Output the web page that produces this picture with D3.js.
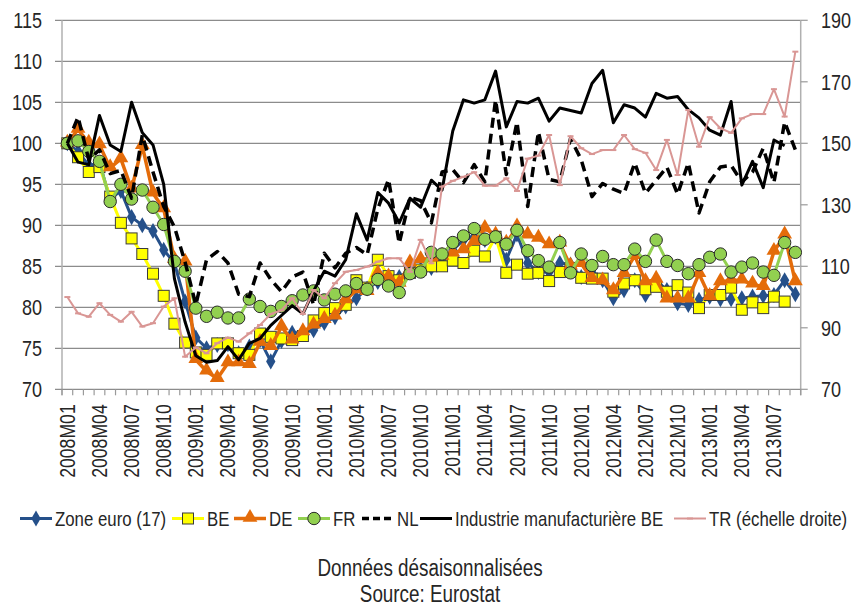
<!DOCTYPE html>
<html>
<head>
<meta charset="utf-8">
<script src="https://cdn.jsdelivr.net/npm/d3@7"></script>
<style>
  body { margin: 0; background: #fff; }
  svg text { font-family: "Liberation Sans", Arial, sans-serif; fill: #262626; }
</style>
</head>
<body>
<svg id="chart" width="855" height="608"></svg>
<script>
// months 2008M01 .. 2013M09
var months = [];
for (var yr = 2008; yr <= 2013; yr++)
  for (var mo = 1; mo <= 12; mo++)
    if (months.length < 69) months.push(yr + "M" + (mo < 10 ? "0" + mo : mo));

var tickLabels = ["2008M01","2008M04","2008M07","2008M10","2009M01","2009M04","2009M07","2009M10",
  "2010M01","2010M04","2010M07","2010M10","2011M01","2011M04","2011M07","2011M10",
  "2012M01","2012M04","2012M07","2012M10","2013M01","2013M04","2013M07"];
var leftTicks = [70, 75, 80, 85, 90, 95, 100, 105, 110, 115];
var rightTicks = [70, 90, 110, 130, 150, 170, 190];

var zoneEuro = [100,99.0,97.3,97.6,93.2,94.2,91.0,90.0,89.3,87.0,85.4,80.7,76.3,75.0,75.4,75.5,74.4,75.2,76.0,73.4,
  75.9,76.9,76.9,77.2,78.1,78.8,80.1,81.1,82.3,83.1,83.7,83.7,84.5,84.6,84.8,85.8,87.0,88.2,88.6,88.2,
  88.6,85.8,88.9,85.4,84.3,84.3,85.4,85.2,83.7,84.2,83.3,81.1,82.1,83.3,81.5,83.3,82.1,80.5,80.3,80.9,
  81.3,81.0,81.0,81.1,81.3,81.4,81.5,83.3,81.6];
var be = [100,98.3,96.5,97.1,93.5,90.3,88.4,86.5,84.1,81.4,78.0,75.7,74.5,74.2,75.6,75.6,74.4,74.2,76.8,76.4,
  76.2,76.0,76.5,78.4,79.3,79.9,80.3,83.3,82.4,85.8,83.8,83.3,84.2,84.6,85.0,85.0,85.7,85.4,86.9,86.2,
  88.6,84.2,85.2,84.1,84.2,83.2,84.3,84.8,83.6,83.5,83.5,81.9,82.9,83.3,82.2,82.5,81.9,82.7,81.8,79.9,
  81.5,81.5,82.4,79.7,80.6,79.9,81.3,80.7,null];
var de = [100,101.7,100.0,99.8,97.0,98.1,94.4,99.7,93.9,92.0,85.8,85.5,73.6,72.2,71.3,73.2,73.2,73.0,75.7,75.2,
  77.6,76.0,77.0,77.8,78.5,78.9,80.9,82.1,81.9,84.1,83.7,82.9,85.4,85.8,86.0,86.2,86.6,87.0,88.0,89.6,
  88.8,87.8,89.8,88.8,88.4,87.6,87.8,85.0,85.3,83.5,83.2,82.0,84.1,86.3,83.1,83.4,81.0,81.0,81.0,84.1,
  81.3,83.1,83.3,83.3,82.8,82.5,86.8,88.8,83.1];
var fr = [100,100.3,99.0,97.8,92.9,95.0,93.2,94.3,92.2,90.1,85.6,84.4,79.9,78.9,79.4,78.7,78.7,81.0,80.1,79.5,
  80.1,80.8,81.5,82.0,80.9,81.6,82.0,82.9,82.2,83.4,82.6,81.8,84.1,84.3,86.7,86.5,87.9,88.7,89.6,88.3,
  88.6,87.7,89.4,86.9,85.7,84.9,87.9,84.2,86.5,85.1,86.2,85.2,85.2,87.1,85.6,88.2,85.6,85.1,84.1,85.2,
  86.1,86.5,84.3,84.9,85.4,84.3,83.9,87.9,86.7];
var nl = [100,103.2,98.0,99.2,96.3,96.7,93.3,101.0,96.5,92.3,89.8,85.5,80.3,85.8,86.8,85.4,81.6,81.3,85.4,83.4,
  81.9,83.7,84.3,80.3,86.6,84.8,86.6,87.3,86.4,92.0,95.6,87.8,93.4,93.0,90.3,96.5,96.8,95.2,97.4,95.3,
  105.3,96.2,102.6,92.3,101.4,95.6,95.3,100.6,98.0,93.5,95.1,94.4,93.9,97.6,93.9,95.5,97.1,93.8,97.6,91.5,
  95.3,97.1,97.3,95.3,96.5,99.4,95.2,102.6,99.2];
var industrie = [100,97.7,97.4,103.4,99.8,99.0,105.0,101.3,99.8,95.0,83.5,78.2,74.1,73.3,73.5,75.2,73.6,75.6,76.2,77.8,
  79.0,80.2,79.2,82.0,84.4,83.8,85.8,91.4,88.2,94.0,92.7,90.3,93.3,92.2,95.5,94.3,101.5,105.3,104.9,105.3,
  108.8,102.0,105.1,104.9,105.5,102.7,104.3,104.0,103.7,107.3,108.9,102.5,104.7,104.3,103.2,106.1,105.5,105.7,104.1,103.1,
  101.6,101.0,105.1,94.9,97.8,94.6,100.4,99.7,null];
var tr = [100.0,94.7,93.6,98.0,94.2,92.0,95.2,90.4,91.5,96.9,99.6,80.6,83.6,81.7,85.0,86.8,85.5,88.2,90.9,94.5,
  95.7,99.6,94.5,102.3,99.6,104.5,108.2,108.8,109.9,111.5,112.6,112.6,108.2,118.6,111.0,135.9,137.8,139.1,140.6,136.2,
  136.2,138.6,134.5,145.0,146.0,152.7,136.4,152.3,148.4,146.5,147.8,147.8,152.7,148.1,146.9,141.3,151.1,139.7,160.8,148.9,
  158.5,154.9,153.4,158.1,159.5,159.5,167.6,158.7,179.8];

var series = [
  { name: "Zone euro (17)", values: zoneEuro, color: "#25508a", width: 3, marker: "diamond" },
  { name: "BE", values: be, color: "#ffff00", width: 3, marker: "square" },
  { name: "DE", values: de, color: "#e46c0a", width: 3.5, marker: "triangle" },
  { name: "FR", values: fr, color: "#92d050", width: 3, marker: "circle" },
  { name: "NL", values: nl, color: "#000000", width: 3.5, dash: "10,6" },
  { name: "Industrie manufacturière BE", values: industrie, color: "#000000", width: 3 },
  { name: "TR (échelle droite)", values: tr, color: "#d99694", width: 2, marker: "dash", right: true }
];

var svg = d3.select("#chart");
var plotLeft = 62, plotRight = 800.7, plotTop = 20.3, plotBottom = 389.3;
var narrow = 0.82; // Arial Narrow look

var x = d3.scaleBand().domain(months).range([plotLeft, plotRight]).padding(0);
var yL = d3.scaleLinear().domain([70, 115]).range([plotBottom, plotTop]);
var yR = d3.scaleLinear().domain([70, 190]).range([plotBottom, plotTop]);
function cx(m) { return x(m) + x.bandwidth() / 2; }

function label(g, tx, ty, txt, size, anchor, rot) {
  return g.append("text")
    .attr("transform", "translate(" + tx + "," + ty + ")" + (rot ? " rotate(" + rot + ")" : "") + " scale(" + narrow + ",1)")
    .attr("dy", "0.35em").attr("text-anchor", anchor).style("font-size", size + "px").text(txt);
}

// grid
svg.append("g").selectAll("line").data(leftTicks.slice(1)).enter().append("line")
  .attr("x1", plotLeft - 7).attr("x2", plotRight)
  .attr("y1", function(d) { return yL(d); }).attr("y2", function(d) { return yL(d); })
  .style("stroke", "#8c8c8c").style("stroke-width", 1.3);

// axis lines
svg.append("line").attr("x1", plotLeft).attr("x2", plotLeft).attr("y1", plotTop).attr("y2", plotBottom + 6)
  .style("stroke", "#b0b0b0").style("stroke-width", 1.5);
svg.append("line").attr("x1", plotRight).attr("x2", plotRight).attr("y1", plotTop).attr("y2", plotBottom + 6)
  .style("stroke", "#b0b0b0").style("stroke-width", 1.5);
svg.append("line").attr("x1", plotLeft - 7).attr("x2", plotRight).attr("y1", plotBottom).attr("y2", plotBottom)
  .style("stroke", "#8c8c8c").style("stroke-width", 1.3);

// category ticks
var bounds = months.map(function(m) { return x(m); }).concat([plotRight]);
svg.append("g").selectAll("line").data(bounds).enter().append("line")
  .attr("x1", function(d) { return d; }).attr("x2", function(d) { return d; })
  .attr("y1", plotBottom).attr("y2", plotBottom + 6)
  .style("stroke", "#9a9a9a").style("stroke-width", 1.2);

// right ticks
svg.append("g").selectAll("line").data(rightTicks).enter().append("line")
  .attr("x1", plotRight).attr("x2", plotRight + 7)
  .attr("y1", function(d) { return yR(d); }).attr("y2", function(d) { return yR(d); })
  .style("stroke", "#9a9a9a").style("stroke-width", 1.2);

// labels
var axisText = svg.append("g");
leftTicks.forEach(function(d) { label(axisText, 42, yL(d), d, 22, "end"); });
rightTicks.forEach(function(d) { label(axisText, 821, yR(d), d, 22, "start"); });
tickLabels.forEach(function(d) { label(axisText, cx(d), plotBottom + 15, d, 21.5, "end", -90); });

function drawMarker(g, type, color, px, py) {
  if (type == "diamond") {
    g.append("path").attr("d", d3.symbol().type(d3.symbolDiamond).size(75)())
      .attr("transform", "translate(" + px + "," + py + ")").attr("fill", color);
  } else if (type == "square") {
    g.append("rect").attr("x", px - 5.5).attr("y", py - 5.5).attr("width", 11).attr("height", 11)
      .attr("fill", color).style("stroke", "#3a3a3a").style("stroke-width", 1);
  } else if (type == "triangle") {
    g.append("path").attr("d", d3.symbol().type(d3.symbolTriangle).size(95)())
      .attr("transform", "translate(" + px + "," + (py - 1) + ")").attr("fill", color);
  } else if (type == "circle") {
    g.append("circle").attr("cx", px).attr("cy", py).attr("r", 6.2)
      .attr("fill", color).style("stroke", "#2a2a2a").style("stroke-width", 1);
  } else if (type == "dash") {
    g.append("line").attr("x1", px - 3).attr("x2", px + 3).attr("y1", py).attr("y2", py)
      .style("stroke", color).style("stroke-width", 2);
  }
}

// series
series.forEach(function(s) {
  var ys = s.right ? yR : yL;
  var pts = months.map(function(m, i) { return { m: m, v: s.values[i] }; });
  var line = d3.line().defined(function(d) { return d.v != null; })
    .x(function(d) { return cx(d.m); }).y(function(d) { return ys(d.v); });
  var g = svg.append("g");
  g.append("path").datum(pts).attr("d", line).attr("fill", "none")
    .style("stroke", s.color).style("stroke-width", s.width)
    .style("stroke-dasharray", s.dash || null).style("stroke-linejoin", "round");
  if (s.marker)
    pts.forEach(function(d) {
      if (d.v != null) drawMarker(g, s.marker, s.color, cx(d.m), ys(d.v));
    });
});

// legend
var legendX = [20, 172, 234, 298, 362, 420, 674];
var ly = 518.5;
series.forEach(function(s, i) {
  var g = svg.append("g");
  var lx = legendX[i];
  g.append("line").attr("x1", lx).attr("x2", lx + 32).attr("y1", ly).attr("y2", ly)
    .style("stroke", s.color).style("stroke-width", s.width)
    .style("stroke-dasharray", s.dash ? "7,4" : null);
  if (s.marker) drawMarker(g, s.marker, s.color, lx + 16, ly);
  label(g, lx + 35, ly, s.name, 20.5, "start");
});

label(svg, 430, 568, "Données désaisonnalisées", 23, "middle");
label(svg, 430, 594, "Source: Eurostat", 23, "middle");
</script>
</body>
</html>
